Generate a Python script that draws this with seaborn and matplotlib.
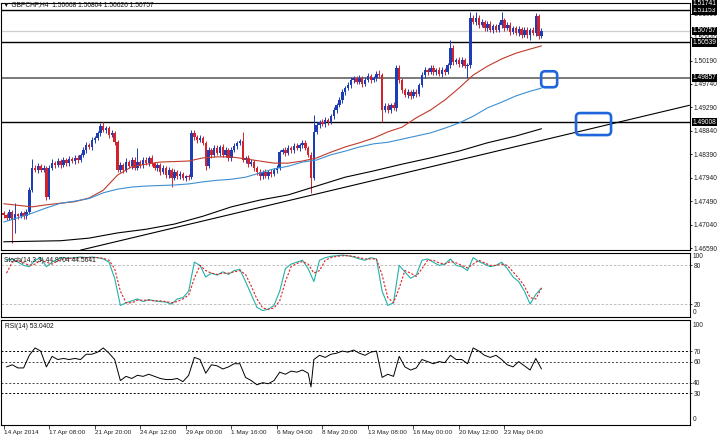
import numpy as np
import pandas as pd
import matplotlib
matplotlib.use("Agg")
import matplotlib.pyplot as plt
import matplotlib.transforms as mtransforms
from matplotlib.patches import FancyBboxPatch
import seaborn as sns

# ---------------- data ----------------
first_open = 1.4726
closes = [
    1.4722, 1.4717, 1.4728, 1.4713, 1.4724, 1.4720, 1.4726, 1.4720, 1.4728, 1.4770,
    1.4813, 1.4809, 1.4816, 1.4809, 1.4813, 1.4757, 1.4813, 1.4822, 1.4818, 1.4826,
    1.4818, 1.4828, 1.4822, 1.4830, 1.4826, 1.4832, 1.4828, 1.4838, 1.4847, 1.4857,
    1.4853, 1.4866, 1.4870, 1.4880, 1.4893, 1.4886, 1.4889, 1.4876, 1.4880, 1.4863,
    1.4809, 1.4818, 1.4809, 1.4824, 1.4816, 1.4828, 1.4813, 1.4824, 1.4818, 1.4828,
    1.4822, 1.4832, 1.4822, 1.4813, 1.4818, 1.4805, 1.4813, 1.4799, 1.4809, 1.4793,
    1.4805, 1.4797, 1.4801, 1.4793, 1.4797, 1.4795, 1.4880, 1.4872, 1.4866, 1.4870,
    1.4861, 1.4816, 1.4847, 1.4838, 1.4851, 1.4841, 1.4853, 1.4838, 1.4847, 1.4832,
    1.4847, 1.4855, 1.4861, 1.4864, 1.4828, 1.4832, 1.4820, 1.4824, 1.4813, 1.4805,
    1.4797, 1.4805, 1.4797, 1.4805, 1.4801, 1.4809, 1.4813, 1.4843, 1.4847, 1.4841,
    1.4851, 1.4847, 1.4855, 1.4851, 1.4857, 1.4861, 1.4851, 1.4838, 1.4793, 1.4882,
    1.4895, 1.4901, 1.4897, 1.4905, 1.4901, 1.4912, 1.4924, 1.4934, 1.4943, 1.4959,
    1.4966, 1.4972, 1.4982, 1.4985, 1.4978, 1.4985, 1.4974, 1.4982, 1.4989, 1.4982,
    1.4985, 1.4993, 1.4991, 1.4924, 1.4932, 1.4924, 1.4934, 1.4928, 1.5005, 1.4982,
    1.4962, 1.4953, 1.4959, 1.4951, 1.4959, 1.4955, 1.4972, 1.4991, 1.5001, 1.4997,
    1.5005, 1.4997, 1.5001, 1.4993, 1.5001, 1.4997, 1.5010, 1.5043, 1.5016, 1.5020,
    1.5012, 1.5020, 1.5008, 1.5010, 1.5101, 1.5093, 1.5101, 1.5087, 1.5093, 1.5081,
    1.5089, 1.5078, 1.5085, 1.5078, 1.5087, 1.5097, 1.5081, 1.5087, 1.5074, 1.5081,
    1.5072, 1.5080, 1.5068, 1.5078, 1.5068, 1.5078, 1.5072, 1.5105, 1.50668, 1.50757,
]
up_wick_pips = [
    5, 4, 6, 4, 21, 3, 5, 4, 6, 6,
    17, 5, 6, 4, 5, 3, 6, 7, 4, 5,
    4, 6, 3, 5, 4, 6, 5, 4, 6, 5,
    4, 6, 5, 4, 6, 8, 5, 4, 6, 3,
    4, 6, 5, 7, 4, 6, 5, 27, 4, 6,
    5, 4, 6, 3, 5, 4, 6, 4, 5, 3,
    5, 4, 6, 4, 3, 5, 6, 5, 4, 6,
    5, 3, 6, 4, 5, 6, 4, 5, 6, 4,
    5, 6, 4, 5, 18, 4, 5, 6, 4, 3,
    5, 4, 6, 4, 5, 3, 6, 5, 4, 6,
    5, 4, 6, 5, 4, 6, 5, 4, 5, 32,
    6, 4, 5, 6, 4, 5, 6, 4, 5, 6,
    4, 5, 6, 4, 5, 6, 4, 5, 6, 4,
    5, 6, 8, 4, 5, 6, 4, 5, 5, 6,
    4, 5, 6, 4, 5, 6, 4, 5, 6, 4,
    5, 6, 4, 5, 6, 4, 5, 15, 6, 4,
    5, 6, 4, 5, 11, 6, 11, 5, 6, 4,
    5, 6, 4, 5, 6, 15, 4, 5, 6, 4,
    5, 6, 4, 5, 6, 4, 5, 6, 4, 5,
]
dn_wick_pips = [
    6, 5, 4, 44, 25, 5, 4, 6, 5, 4,
    4, 5, 6, 4, 5, 6, 4, 5, 6, 4,
    5, 4, 6, 5, 4, 5, 6, 4, 5, 6,
    4, 5, 6, 4, 5, 4, 6, 5, 4, 6,
    5, 4, 6, 5, 4, 6, 5, 4, 6, 5,
    4, 6, 5, 4, 6, 5, 4, 6, 5, 17,
    4, 5, 6, 4, 5, 6, 4, 5, 6, 4,
    5, 8, 4, 6, 5, 4, 6, 5, 4, 6,
    5, 4, 6, 5, 4, 6, 5, 4, 6, 5,
    7, 5, 4, 6, 5, 4, 6, 5, 4, 6,
    4, 5, 6, 4, 5, 6, 4, 5, 28, 4,
    5, 6, 4, 5, 6, 4, 5, 6, 4, 5,
    6, 4, 5, 6, 4, 5, 6, 4, 5, 6,
    4, 5, 6, 23, 4, 5, 6, 4, 5, 6,
    5, 4, 6, 5, 4, 6, 5, 4, 6, 5,
    4, 6, 5, 4, 6, 5, 4, 6, 5, 4,
    6, 5, 4, 23, 5, 4, 6, 5, 4, 6,
    5, 4, 6, 5, 4, 6, 5, 4, 6, 5,
    4, 6, 5, 4, 6, 10, 4, 5, 6, 4,
]

ma_bars = list(range(0, 190, 5)) + [189]
red_ma = [1.4744, 1.4741, 1.4738, 1.4742, 1.4745, 1.4748, 1.4755, 1.4770, 1.4799, 1.4815,
          1.4820, 1.4824, 1.4825, 1.4826, 1.4832, 1.4834, 1.4834, 1.4830, 1.4826, 1.4822,
          1.4822, 1.4826, 1.4832, 1.4843, 1.4853, 1.4861, 1.4870, 1.4882, 1.4891, 1.4909,
          1.4924, 1.4943, 1.4966, 1.4991, 1.5008, 1.5022, 1.5033, 1.5041, 1.5047]
blue_ma = [1.4709, 1.4717, 1.4726, 1.4736, 1.4745, 1.4749, 1.4754, 1.4765, 1.4772, 1.4776,
           1.4778, 1.4779, 1.4780, 1.4782, 1.4786, 1.4789, 1.4791, 1.4795, 1.4803, 1.4811,
           1.4816, 1.4824, 1.4828, 1.4838, 1.4845, 1.4853, 1.4859, 1.4862, 1.4868, 1.4874,
           1.4880, 1.4889, 1.4899, 1.4912, 1.4928, 1.4939, 1.4951, 1.4960, 1.4966]
black_ma_bars = list(range(0, 190, 10)) + [189]
black_ma = [1.4671, 1.4672, 1.4673, 1.4678, 1.4688, 1.4695, 1.4705, 1.4720, 1.4738, 1.4751,
            1.4761, 1.4778, 1.4795, 1.4807, 1.4820, 1.4832, 1.4845, 1.4861, 1.4874, 1.4888]
trend_bars = [27, 241]
trend_prices = [1.4655, 1.4933]

level_lines = [1.51153, 1.50539, 1.49857, 1.49008]
level_colors = ["black", "black", "#707070", "black"]
bid_price = 1.50757
box_labels = [1.51741, 1.51153, 1.50757, 1.50539, 1.49857, 1.49008]
price_ticks = [1.46590, 1.47040, 1.47490, 1.47940, 1.48390, 1.48840, 1.49290,
               1.49740, 1.50190, 1.50640, 1.51090]
highlight_bars = [191.7, 207.3]
highlight_prices = [1.4983, 1.4897]

stoch_bars = list(range(1, 190, 2))
stoch_k = [88, 90, 85, 80, 78, 88, 92, 78, 85, 90,
           92, 91, 92, 93, 92, 93, 92, 90, 85, 60,
           18, 22, 25, 28, 24, 27, 25, 24, 23, 20,
           28, 30, 40, 85, 80, 62, 68, 65, 70, 66,
           72, 74, 55, 35, 15, 10, 12, 18, 40, 75,
           82, 85, 88, 75, 55, 88, 92, 94, 95, 96,
           95, 93, 90, 88, 92, 90, 40, 18, 22, 80,
           70, 60, 65, 88, 90, 85, 80, 82, 90, 80,
           78, 72, 92, 86, 82, 78, 80, 85, 75, 62,
           55, 40, 20, 35, 44.97]
stoch_d = [68, 85, 88, 84, 80, 82, 88, 85, 82, 87,
           90, 91, 91, 92, 92, 92, 92, 91, 88, 75,
           40, 22, 22, 26, 26, 26, 25, 25, 24, 22,
           24, 28, 34, 60, 80, 72, 68, 66, 68, 68,
           70, 72, 66, 48, 28, 14, 12, 14, 25, 55,
           78, 83, 86, 82, 68, 72, 88, 92, 94, 95,
           95, 94, 92, 90, 90, 90, 65, 30, 22, 45,
           72, 68, 63, 75, 88, 88, 84, 82, 86, 84,
           80, 76, 82, 88, 84, 80, 80, 82, 80, 70,
           60, 48, 30, 28, 44.56]

rsi_bars = list(range(1, 108, 2)) + [108] + list(range(109, 190, 2))
rsi_vals = [55, 57, 54, 54, 66, 73, 70, 55, 65, 62,
            63, 62, 63, 62, 67, 67, 69, 73, 68, 62,
            42, 46, 44, 47, 46, 48, 46, 44, 43, 43,
            44, 41, 47, 64, 62, 49, 57, 56, 53, 55,
            58, 58, 45, 42, 38, 40, 39, 42, 50, 48,
            51, 50, 52, 49, 36,
            62, 66, 64, 67, 68, 70,
            69, 71, 68, 66, 69, 70, 45, 48, 46, 65,
            55, 52, 54, 62, 60, 58, 60, 59, 66, 62,
            62, 58, 73, 70, 66, 64, 66, 62, 57, 55,
            60, 56, 52, 63, 53.04]

time_tick_bars = [0, 16, 32, 48, 64, 80, 96, 112, 128, 144, 160, 176]
time_tick_labels = ["14 Apr 2014", "17 Apr 08:00", "21 Apr 20:00", "24 Apr 12:00",
                    "29 Apr 00:00", "1 May 16:00", "6 May 04:00", "8 May 20:00",
                    "13 May 08:00", "16 May 00:00", "20 May 12:00", "23 May 04:00"]

title_text = "\u25bc GBPCHF,H4  1.50668 1.50804 1.50626 1.50757"
stoch_text = "Stoch(14,3,3) 44.9704 44.5641"
rsi_text = "RSI(14) 53.0402"

# ---------------- style ----------------
sns.set_style("white")
plt.rcParams["font.family"] = ["Liberation Sans", "DejaVu Sans"]
FS = 4.8

W, H = 720, 438
fig = plt.figure(figsize=(W / 100, H / 100), dpi=100)
fig.patch.set_facecolor("white")

def px_axes(left, top, right, bottom):
    return fig.add_axes([left / W, 1 - bottom / H, (right - left) / W, (bottom - top) / H])

ax = px_axes(1, 3, 690, 250)
ax_st = px_axes(1, 252.5, 690, 317)
ax_rsi = px_axes(1, 319.5, 690, 424.8)

XMIN, XMAX = -0.95, 241.2
for a in (ax, ax_st, ax_rsi):
    a.set_xlim(XMIN, XMAX)
    for s in a.spines.values():
        s.set_color("black")
        s.set_linewidth(0.8)
    a.set_facecolor("white")

# ---------------- candles ----------------
n = len(closes)
bars = np.arange(n)
c = np.array(closes)
o = np.array([first_open] + closes[:-1])
hi = np.maximum(o, c) + np.array(up_wick_pips) * 1e-4
lo = np.minimum(o, c) - np.array(dn_wick_pips) * 1e-4
df = pd.DataFrame({"bar": bars, "open": o, "high": hi, "low": lo, "close": c})
df["bull"] = df["close"] >= df["open"]
BULL, BEAR = "#1c3db5", "#d4222c"
cols = np.where(df["bull"], BULL, BEAR)

# level lines
for lv, lc in zip(level_lines, level_colors):
    ax.axhline(lv, color=lc, lw=1.0 if lc == "black" else 1.3, zorder=1)
ax.axhline(bid_price, color="#cfcfcf", lw=0.9, zorder=1)

ax.vlines(df["bar"], df["low"], df["high"], colors=cols, lw=0.7, zorder=3)
ax.bar(df["bar"], np.maximum((df["close"] - df["open"]).abs(), 0.00008),
       bottom=np.minimum(df["open"], df["close"]), width=0.85, color=cols,
       linewidth=0, zorder=4)

# moving averages and trend line
sns.lineplot(x=ma_bars, y=red_ma, ax=ax, color="#c0392b", lw=0.8, sort=False, zorder=5)
sns.lineplot(x=ma_bars, y=blue_ma, ax=ax, color="#3d8fd1", lw=0.8, sort=False, zorder=5)
sns.lineplot(x=black_ma_bars, y=black_ma, ax=ax, color="black", lw=0.8, sort=False, zorder=5)
sns.lineplot(x=trend_bars, y=trend_prices, ax=ax, color="black", lw=0.8, sort=False, zorder=5)

YMIN, YMAX = 1.46552, 1.51294
ax.set_ylim(YMIN, YMAX)
ax.set_xticks([])
ax.set_xlabel("")
ax.set_ylabel("")
ax.yaxis.tick_right()
ax.set_yticks(price_ticks)
ax.set_yticklabels([f"{p:.5f}" for p in price_ticks])
ax.tick_params(axis="y", right=True, length=1.6, width=0.6, pad=0.8,
               labelsize=FS, labelcolor="#222222", color="black")

trans = mtransforms.blended_transform_factory(ax.transAxes, ax.transAxes)
trans_d = mtransforms.blended_transform_factory(ax.transAxes, ax.transData)
for p in box_labels:
    if p > YMAX:
        ax.text(1.0035, 1.012, f"{p:.5f}", transform=trans, color="white", fontsize=FS,
                ha="left", va="top", clip_on=False, zorder=21,
                bbox=dict(facecolor="black", edgecolor="none", pad=0.6))
    else:
        ax.text(1.0035, p, f"{p:.5f}", transform=trans_d, color="white", fontsize=FS,
                ha="left", va="center", clip_on=False, zorder=20,
                bbox=dict(facecolor="black", edgecolor="none", pad=0.6))

# highlight boxes (rounded, drawn in inch units so corners stay round)
fig.canvas.draw()
for bx, by, (wi, hi_) in zip(highlight_bars, highlight_prices, [(0.16, 0.16), (0.35, 0.22)]):
    dx, dy = ax.transData.transform((bx, by)) / fig.dpi
    patch = FancyBboxPatch((dx - wi / 2, dy - hi_ / 2), wi, hi_,
                           boxstyle="round,pad=0,rounding_size=0.04",
                           transform=fig.dpi_scale_trans, fill=False,
                           edgecolor="#1f66dd", linewidth=1.9, zorder=30)
    fig.add_artist(patch)

# ---------------- stochastic ----------------
ax_st.set_ylim(0, 100)
for lv in (80, 20):
    ax_st.axhline(lv, color="#b5b5b5", lw=0.6, ls=(0, (3, 2)), zorder=1)
sns.lineplot(x=stoch_bars, y=stoch_k, ax=ax_st, color="#20b2aa", lw=0.8, sort=False, zorder=3)
sns.lineplot(x=stoch_bars, y=stoch_d, ax=ax_st, color="#e02020", lw=0.8,
             ls=(0, (2, 1.5)), sort=False, zorder=4)
ax_st.set_xticks([])
ax_st.set_xlabel("")
ax_st.set_ylabel("")
ax_st.yaxis.tick_right()
ax_st.set_yticks([80, 20])
ax_st.set_yticklabels(["80", "20"])
ax_st.tick_params(axis="y", right=True, length=1.6, width=0.6, pad=0.8,
                  labelsize=FS, labelcolor="#222222")
st_t = mtransforms.blended_transform_factory(ax_st.transAxes, ax_st.transData)
ax_st.text(1.004, 99, "100", transform=st_t, fontsize=FS, ha="left", va="top",
           color="#222222", clip_on=False)
ax_st.text(1.004, 1, "0", transform=st_t, fontsize=FS, ha="left", va="bottom",
           color="#222222", clip_on=False)
ax_st.text(0.005, 0.88, stoch_text, transform=ax_st.transAxes, fontsize=FS,
           ha="left", va="center", color="#111111", zorder=6)

# ---------------- RSI ----------------
ax_rsi.set_ylim(0, 100)
for lv, lc in ((70, "black"), (60, "#444444"), (40, "#444444"), (30, "black")):
    ax_rsi.axhline(lv, color=lc, lw=0.7, ls=(0, (2, 2)), zorder=1)
sns.lineplot(x=rsi_bars, y=rsi_vals, ax=ax_rsi, color="black", lw=0.7, sort=False, zorder=3)
ax_rsi.set_xlabel("")
ax_rsi.set_ylabel("")
ax_rsi.yaxis.tick_right()
ax_rsi.set_yticks([70, 60, 40, 30])
ax_rsi.set_yticklabels(["70", "60", "40", "30"])
ax_rsi.tick_params(axis="y", right=True, length=1.6, width=0.6, pad=0.8,
                   labelsize=FS, labelcolor="#222222")
rt = mtransforms.blended_transform_factory(ax_rsi.transAxes, ax_rsi.transData)
ax_rsi.text(1.004, 98, "100", transform=rt, fontsize=FS, ha="left", va="top",
            color="#222222", clip_on=False)
ax_rsi.text(1.004, 2, "0", transform=rt, fontsize=FS, ha="left", va="bottom",
            color="#222222", clip_on=False)
ax_rsi.text(0.006, 0.935, rsi_text, transform=ax_rsi.transAxes, fontsize=FS,
            ha="left", va="center", color="#111111", zorder=6)

ax_rsi.set_xticks(time_tick_bars)
ax_rsi.set_xticklabels(time_tick_labels)
ax_rsi.tick_params(axis="x", bottom=True, length=3.0, width=0.6, pad=0.4,
                   labelsize=4.6, labelcolor="#222222", direction="out")
for lab in ax_rsi.get_xticklabels():
    lab.set_horizontalalignment("left")

fig.text(3 / W, 1 - 4.5 / H, title_text, fontsize=FS, ha="left", va="center",
         color="#111111", family=["Liberation Sans", "DejaVu Sans"], zorder=40)

fig.savefig("out.png", dpi=100, facecolor="white")
